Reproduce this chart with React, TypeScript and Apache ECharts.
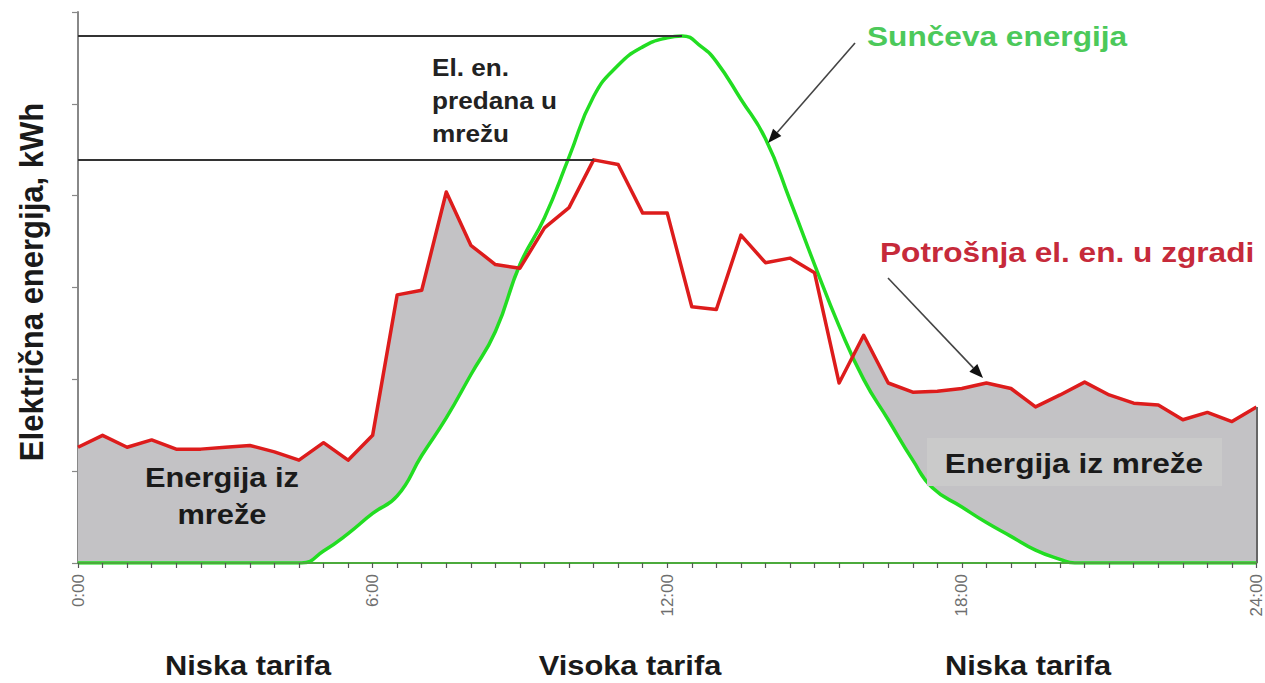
import React, { useEffect, useRef } from "react";
import * as echarts from "echarts";

// ---- data ----
const hours = [
  0, 0.5, 1, 1.5, 2, 2.5, 3, 3.5, 4, 4.5, 5, 5.5, 6, 6.5, 7, 7.5, 8, 8.5, 9, 9.5,
  10, 10.5, 11, 11.5, 12, 12.5, 13, 13.5, 14, 14.5, 15, 15.5, 16, 16.5, 17, 17.5,
  18, 18.5, 19, 19.5, 20, 20.5, 21, 21.5, 22, 22.5, 23, 23.5, 24,
];
const consumption = [
  1.26, 1.39, 1.26, 1.34, 1.24, 1.24, 1.26, 1.28, 1.21, 1.12, 1.31, 1.12, 1.39,
  2.92, 2.97, 4.04, 3.46, 3.25, 3.21, 3.65, 3.87, 4.39, 4.34, 3.81, 3.81, 2.79,
  2.76, 3.57, 3.27, 3.32, 3.16, 1.96, 2.48, 1.96, 1.86, 1.87, 1.9, 1.96, 1.9,
  1.7, 1.83, 1.97, 1.83, 1.74, 1.72, 1.56, 1.64, 1.54, 1.7,
];
const solarHours = [
  0, 4.55, 5, 5.5, 6, 6.5, 7, 7.5, 8, 8.5, 9, 9.5, 10, 10.5, 11, 11.5, 12, 12.3,
  12.7, 13, 13.5, 14, 14.5, 15, 15.5, 16, 16.5, 17, 17.4, 18, 18.5, 19, 19.5, 20,
  20.3, 24,
];
const solarValues = [
  0, 0, 0.13, 0.32, 0.54, 0.73, 1.17, 1.58, 2.05, 2.52, 3.25, 3.76, 4.42, 5.08,
  5.42, 5.62, 5.72, 5.74, 5.62, 5.46, 5.05, 4.62, 3.95, 3.25, 2.58, 2.0, 1.56,
  1.12, 0.82, 0.61, 0.44, 0.29, 0.14, 0.04, 0, 0,
];
const xTickLabels = ["0:00", "6:00", "12:00", "18:00", "24:00"];
const tariffLabels = ["Niska tarifa", "Visoka tarifa", "Niska tarifa"];

const consumptionData = hours.map((h, i) => [h, consumption[i]]);
const solarData = solarHours.map((h, i) => [h, solarValues[i]]);

const FONT = '"Liberation Sans", Arial, sans-serif';

function arrow(x1: number, y1: number, x2: number, y2: number) {
  const dx = x2 - x1;
  const dy = y2 - y1;
  const L = Math.hypot(dx, dy);
  const ux = dx / L;
  const uy = dy / L;
  const hl = 14;
  const hw = 5.5;
  const bx = x2 - ux * hl;
  const by = y2 - uy * hl;
  return [
    {
      type: "line",
      z: 100,
      shape: { x1, y1, x2: bx, y2: by },
      style: { stroke: "#444", lineWidth: 1.6 },
    },
    {
      type: "polygon",
      z: 100,
      shape: {
        points: [
          [x2, y2],
          [bx - uy * hw, by + ux * hw],
          [bx + uy * hw, by - ux * hw],
        ],
      },
      style: { fill: "#111" },
    },
  ];
}

function txt(
  text: string,
  x: number,
  y: number,
  size: number,
  fill: string,
  align: string,
  extra: any = {}
) {
  return {
    type: "text",
    z: 110,
    x,
    y,
    ...extra,
    style: {
      text,
      fontSize: size,
      fontWeight: "bold",
      fontFamily: FONT,
      fill,
      align,
      verticalAlign: "middle",
      lineHeight: extra.lineHeight || size * 1.2,
    },
  };
}

export default function App() {
  const ref = useRef<HTMLDivElement>(null);

  useEffect(() => {
    if (!ref.current) return;
    const chart = echarts.init(ref.current, undefined, { renderer: "svg" });

    const solarMax = Math.max(...solarValues);
    const solarMaxH = solarHours[solarValues.indexOf(solarMax)];
    const consMax = Math.max(...consumption);
    const consMaxH = hours[consumption.indexOf(consMax)];

    const option: any = {
      animation: false,
      backgroundColor: "#ffffff",
      grid: { left: 78, right: 8, top: 12, bottom: 120 },
      xAxis: {
        type: "value",
        min: 0,
        max: 24,
        interval: 6,
        z: 5,
        axisLine: { show: true, lineStyle: { color: "#4caa3c", width: 2 } },
        axisTick: { show: true, length: 5, lineStyle: { color: "#555", width: 1.2 } },
        minorTick: { show: true, splitNumber: 12, length: 5, lineStyle: { color: "#555", width: 1.2 } },
        splitLine: { show: false },
        axisLabel: {
          rotate: 90,
          margin: 11,
          color: "#6e6e6e",
          fontSize: 17,
          fontFamily: FONT,
          formatter: (v: number) => xTickLabels[Math.round(v / 6)],
        },
      },
      yAxis: {
        type: "value",
        min: 0,
        max: 6,
        interval: 1,
        axisLine: { show: true, lineStyle: { color: "#888", width: 2 } },
        axisTick: { show: true, length: 6, lineStyle: { color: "#888", width: 1.2 } },
        axisLabel: { show: false },
        splitLine: { show: false },
      },
      series: [
        {
          name: "fill",
          type: "line",
          data: consumptionData,
          symbol: "none",
          z: 1,
          lineStyle: { width: 0, opacity: 0 },
          areaStyle: { color: "#c3c2c5", opacity: 1 },
          silent: true,
          markLine: {
            silent: true,
            symbol: ["none", "none"],
            label: { show: false },
            lineStyle: { color: "#666", width: 2, type: "solid" },
            data: [
              [
                { coord: [24, 0] },
                { coord: [24, consumption[consumption.length - 1]] },
              ],
            ],
          },
        },
        {
          name: "Sunčeva energija",
          type: "line",
          data: solarData,
          smooth: 0.5,
          symbol: "none",
          z: 2,
          lineStyle: { color: "#22dd22", width: 3.5 },
          areaStyle: { color: "#ffffff", opacity: 1 },
        },
        {
          name: "Potrošnja el. en. u zgradi",
          type: "line",
          data: consumptionData,
          symbol: "none",
          z: 3,
          lineStyle: { color: "#dd1c1c", width: 3.5, join: "round" },
          markLine: {
            silent: true,
            symbol: ["none", "none"],
            label: { show: false },
            lineStyle: { color: "#333", width: 2, type: "solid" },
            data: [
              [{ coord: [0, solarMax] }, { coord: [solarMaxH, solarMax] }],
              [{ coord: [0, consMax] }, { coord: [consMaxH, consMax] }],
            ],
          },
        },
      ],
      graphic: [
        {
          type: "rect",
          z: 90,
          shape: { x: 927, y: 438, width: 295, height: 48 },
          style: { fill: "#cacaca" },
        },
        txt("Električna energija, kWh", 31, 282, 31, "#1a1a1a", "center", {
          rotation: Math.PI / 2,
          scaleY: 1.1,
        }),
        txt(tariffLabels[0], 248, 665, 28, "#1a1a1a", "center", { scaleX: 1.1 }),
        txt(tariffLabels[1], 630, 665, 28, "#1a1a1a", "center", { scaleX: 1.1 }),
        txt(tariffLabels[2], 1028, 665, 28, "#1a1a1a", "center", { scaleX: 1.1 }),
        txt("El. en.\npredana u\nmrežu", 432, 100, 24, "#222", "left", {
          scaleX: 1.09,
          lineHeight: 33,
        }),
        txt("Sunčeva energija", 867, 36, 28, "#4cc95a", "left", { scaleX: 1.13 }),
        txt("Potrošnja el. en. u zgradi", 880, 252, 28, "#c62a3a", "left", { scaleX: 1.13 }),
        txt("Energija iz\nmreže", 222, 496, 28, "#1a1a1a", "center", {
          scaleX: 1.1,
          lineHeight: 37,
        }),
        txt("Energija iz mreže", 1074, 463, 28, "#1a1a1a", "center", { scaleX: 1.13 }),
        ...arrow(855, 43, 768, 143),
        ...arrow(888, 278, 983, 378),
      ],
    };

    chart.setOption(option);
    return () => chart.dispose();
  }, []);

  return (
    <div
      ref={ref}
      style={{ position: "absolute", left: 0, top: 0, width: 1265, height: 683 }}
    />
  );
}
